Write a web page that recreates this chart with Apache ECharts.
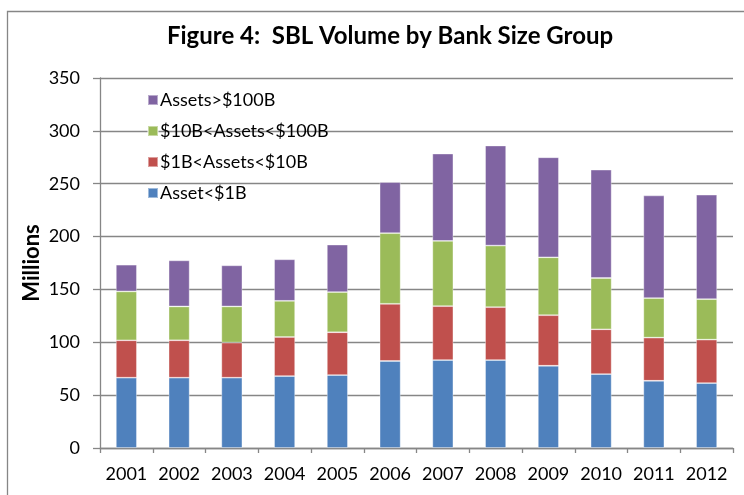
<!DOCTYPE html>
<html>
<head>
<meta charset="utf-8">
<style>html,body{margin:0;padding:0;background:#fff}#c{width:744px;height:495px}</style>
<script src="https://cdn.jsdelivr.net/npm/echarts@6/dist/echarts.min.js"></script>
</head>
<body>
<div id="c"></div>
<script>
const years = ['2001','2002','2003','2004','2005','2006','2007','2008','2009','2010','2011','2012'];
const assetUnder1B = [66.5, 66.5, 66.5, 68, 69, 82.3, 83.2, 83.2, 77.8, 69.9, 63.6, 61.4];
const assets1Bto10B = [35.4, 35.4, 33.2, 37, 40.5, 54.1, 51, 50, 47.8, 42.4, 40.8, 41.1];
const assets10Bto100B = [46.2, 32, 34.2, 34.2, 38, 66.8, 61.7, 58.3, 54.8, 48.5, 37.4, 38.3];
const assetsOver100B = [25.3, 43.6, 38.9, 39.3, 44.9, 48.4, 82.6, 94.6, 94.6, 102.5, 97.1, 98.8];
const seriesNames = ['Asset<$1B', '$1B<Assets<$10B', '$10B<Assets<$100B', 'Assets>$100B'];
const seriesColors = ['#4F81BD', '#C0504D', '#9BBB59', '#8064A2'];
const yTicks = [0, 50, 100, 150, 200, 250, 300, 350];

const font = 'Lato, "Open Sans", sans-serif';
const chart = echarts.init(document.getElementById('c'));
const dataSets = [assetUnder1B, assets1Bto10B, assets10Bto100B, assetsOver100B];
chart.setOption({
  animation: false,
  backgroundColor: '#fff',
  graphic: [{
    type: 'rect', shape: {x: 7.5, y: 11.5, width: 800, height: 600},
    style: {fill: 'none', stroke: '#868686', lineWidth: 1.3}, silent: true, z: -1
  }],
  title: {
    text: 'Figure 4:  SBL Volume by Bank Size Group',
    left: 385, top: 19, textAlign: 'center',
    textStyle: {fontFamily: font, fontWeight: 'bold', fontSize: 24, color: '#000'}
  },
  legend: {
    orient: 'vertical', left: 142, top: 86,
    data: seriesNames.slice().reverse(),
    itemWidth: 10, itemHeight: 10, itemGap: 13,
    icon: 'rect',
    textStyle: {fontFamily: font, fontSize: 18, color: '#000', lineHeight: 18, padding: [0,0,0,-3]}
  },
  grid: {left: 100, right: 11, top: 78, bottom: 47},
  xAxis: {
    type: 'category', data: years,
    axisLine: {lineStyle: {color: '#868686', width: 1.3}},
    axisTick: {show: true, length: 5, lineStyle: {color: '#868686', width: 1.3}},
    axisLabel: {fontFamily: font, fontSize: 18, color: '#000', margin: 17, interval: 0, hideOverlap: false}
  },
  yAxis: {
    type: 'value', min: yTicks[0], max: yTicks[yTicks.length-1], interval: 50,
    name: 'Millions', nameLocation: 'middle', nameGap: 57, nameRotate: 90, nameMoveOverlap: false,
    nameTextStyle: {fontFamily: font, fontSize: 22, fontWeight: 'bold', color: '#000'},
    axisLine: {show: true, lineStyle: {color: '#868686', width: 1.3}},
    axisTick: {show: true, length: 7, lineStyle: {color: '#868686', width: 1.3}},
    splitLine: {lineStyle: {color: '#868686', width: 1.3}},
    axisLabel: {fontFamily: font, fontSize: 18, color: '#000', margin: 20}
  },
  series: seriesNames.map((n, i) => ({
    name: n, type: 'bar', stack: 'total', barWidth: 21,
    itemStyle: {color: seriesColors[i], borderColor: 'rgba(255,255,255,0.45)', borderWidth: 0.8},
    data: dataSets[i]
  }))
});
</script>
</body>
</html>
